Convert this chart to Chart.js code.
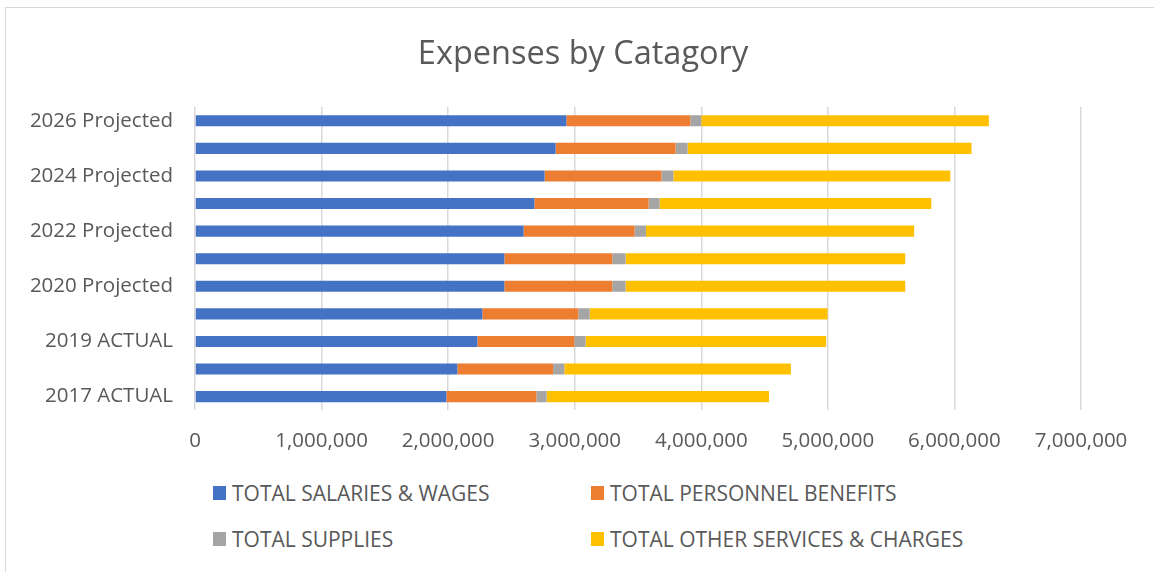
<!DOCTYPE html>
<html lang="en">
<head>
    <meta charset="UTF-8">
    <title>Expenses by Catagory</title>
    <script src="https://cdn.jsdelivr.net/npm/chart.js"></script>
    <style>
        body {
            margin: 0;
            background: #fff;
            font-family: "Open Sans", sans-serif;
            overflow: hidden;
        }

        .frame {
            position: absolute;
            left: 5px;
            top: 7px;
            width: 1300px;
            height: 700px;
            border: 1.5px solid #d9d9d9;
        }

        .chart-box {
            position: absolute;
            left: 0;
            top: 0;
            width: 1154px;
            height: 479px;
        }

        .legend-item {
            position: absolute;
            display: flex;
            align-items: center;
            font-size: 21px;
            color: #595959;
            white-space: nowrap;
            height: 24px;
        }

        .legend-item span.swatch {
            display: inline-block;
            width: 13px;
            height: 14px;
            margin-right: 6px;
        }
    </style>
</head>
<body>
<div class="frame"></div>
<div class="chart-box">
    <canvas id="expenseChart"></canvas>
</div>
<div id="legend"></div>

<script>
    // Years, bottom to top
    const categories = ['2017 ACTUAL', '2018 ACTUAL', '2019 ACTUAL', '2020 BUDGET', '2020 Projected',
        '2021 Projected', '2022 Projected', '2023 Projected', '2024 Projected', '2025 Projected', '2026 Projected'];

    // Series values
    const salariesWages = [1986000, 2073000, 2231000, 2270000, 2444000, 2444000, 2596000, 2681000, 2762000, 2849000, 2934000];
    const personnelBenefits = [711000, 756000, 766000, 758000, 853000, 853000, 877000, 903000, 924000, 948000, 979000];
    const supplies = [81000, 89000, 89000, 90000, 105000, 105000, 90000, 87000, 93000, 95000, 87000];
    const otherServices = [1757000, 1790000, 1901000, 1880000, 2209000, 2209000, 2119000, 2146000, 2188000, 2243000, 2272000];

    const seriesNames = ['TOTAL SALARIES & WAGES', 'TOTAL PERSONNEL BENEFITS', 'TOTAL SUPPLIES', 'TOTAL OTHER SERVICES & CHARGES'];
    const seriesColors = ['#4472C4', '#ED7D31', '#A5A5A5', '#FFC000'];
    const seriesData = [salariesWages, personnelBenefits, supplies, otherServices];

    const xMax = 7000000;
    const xStep = 1000000;

    const textColor = '#595959';

    const ctx = document.getElementById('expenseChart').getContext('2d');
    const expenseChart = new Chart(ctx, {
        type: 'bar',
        data: {
            labels: categories,
            datasets: seriesNames.map((name, i) => ({
                label: name,
                data: seriesData[i],
                backgroundColor: seriesColors[i],
                borderWidth: 0,
                categoryPercentage: 0.4,
                barPercentage: 1.0
            }))
        },
        options: {
            indexAxis: 'y',
            responsive: true,
            maintainAspectRatio: false,
            animation: false,
            layout: {
                // title is centred on the whole box, so the right margin comes from an empty axis
                padding: { left: 12, right: 0, top: 0, bottom: 8 }
            },
            plugins: {
                legend: { display: false },
                tooltip: { enabled: false },
                title: {
                    display: true,
                    text: 'Expenses by Catagory',
                    color: textColor,
                    font: { family: '"Open Sans", sans-serif', size: 32.5, weight: 'normal' },
                    padding: { top: 35, bottom: 33 }
                }
            },
            scales: {
                x: {
                    stacked: true,
                    min: 0,
                    max: xMax,
                    grid: {
                        color: '#d9d9d9',
                        lineWidth: 1.5,
                        drawTicks: false
                    },
                    border: { display: false },
                    ticks: {
                        stepSize: xStep,
                        padding: 18,
                        color: textColor,
                        font: { family: '"Open Sans", sans-serif', size: 20.5 },
                        callback: value => value.toLocaleString('en-US')
                    }
                },
                y: {
                    stacked: true,
                    reverse: true,
                    grid: { display: false },
                    border: { display: false },
                    afterFit: scale => { scale.width = 183; },
                    ticks: {
                        autoSkip: false,
                        padding: 14,
                        color: textColor,
                        font: { family: '"Open Sans", sans-serif', size: 20.5 },
                        // Excel only had room for every other year label
                        callback: function (value, index) {
                            return index % 2 === 0 ? this.getLabelForValue(value) : '';
                        }
                    }
                },
                yRight: {
                    type: 'category',
                    position: 'right',
                    grid: { display: false },
                    border: { display: false },
                    ticks: { display: false },
                    afterFit: scale => { scale.width = 73; }
                }
            }
        }
    });

    // Two-column legend like the original
    const legendPos = [[213, 481], [591, 481], [213, 527], [591, 527]];
    const legend = document.getElementById('legend');
    seriesNames.forEach((name, i) => {
        const item = document.createElement('div');
        item.className = 'legend-item';
        item.style.left = legendPos[i][0] + 'px';
        item.style.top = legendPos[i][1] + 'px';
        item.innerHTML = `<span class="swatch" style="background:${seriesColors[i]}"></span>${name}`;
        legend.appendChild(item);
    });
</script>
</body>
</html>
